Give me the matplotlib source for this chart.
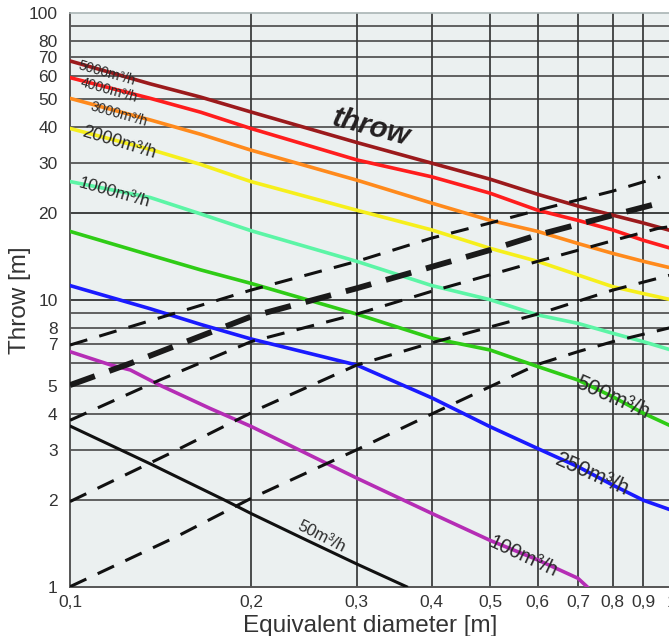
import matplotlib
matplotlib.use("Agg")
import matplotlib.pyplot as plt
from matplotlib.ticker import NullLocator

plt.rcParams['font.family'] = ['Liberation Sans', 'DejaVu Sans']
plt.rcParams['lines.scale_dashes'] = False

# ---- throw curves per air volume ----
x_main = [0.1, 0.136, 0.165, 0.2, 0.3, 0.4, 0.5, 0.6, 0.7, 0.8, 0.9, 1.0]
throw_5000 = [67.9, 56.5, 50.8, 45.1, 35.3, 29.9, 26.3, 23.3, 21.2, 19.7, 18.5, 17.4]
throw_4000 = [59.4, 50.3, 45.0, 39.5, 30.7, 26.8, 23.5, 20.5, 18.9, 17.5, 16.1, 15.1]
throw_3000 = [50.3, 42.3, 37.7, 33.2, 26.1, 21.7, 18.9, 17.3, 15.7, 14.5, 13.6, 12.9]
throw_2000 = [39.5, 33.4, 29.6, 25.8, 20.5, 17.5, 15.1, 13.6, 12.2, 11.1, 10.5, 10.0]
throw_1000 = [25.8, 22.7, 19.9, 17.4, 13.6, 11.2, 10.0, 8.85, 8.27, 7.64, 7.14, 6.68]
throw_500 = [17.3, 14.3, 12.7, 11.4, 8.91, 7.35, 6.68, 5.85, 5.25, 4.59, 4.02, 3.63]
throw_250 = [11.2, 9.3, 8.2, 7.3, 5.92, 4.55, 3.61, 3.03, 2.62, 2.26, 2.0, 1.85]

x_100 = [0.1, 0.117, 0.126, 0.141, 0.171, 0.2, 0.3, 0.4, 0.5, 0.6, 0.7, 0.725]
throw_100 = [6.59, 5.92, 5.69, 5.04, 4.18, 3.62, 2.39, 1.80, 1.45, 1.24, 1.07, 1.0]

x_50 = [0.1, 0.136, 0.182, 0.2, 0.248, 0.3, 0.363]
throw_50 = [3.63, 2.68, 1.99, 1.80, 1.45, 1.2, 1.0]

# ---- dashed reference lines ----
xa = [0.1, 0.2, 0.3, 0.4, 0.5, 0.6, 0.8, 0.96]
ya = [6.95, 10.8, 13.6, 16.4, 18.5, 20.5, 23.9, 26.8]
xb = [0.1, 0.126, 0.2, 0.3, 0.43, 0.5, 0.6, 0.8, 0.98]
yb = [5.04, 6.0, 8.73, 10.96, 13.6, 14.9, 16.8, 19.7, 22.0]
xc = [0.1, 0.141, 0.2, 0.3, 0.4, 0.6, 0.83, 0.95, 1.0]
yc = [3.8, 5.25, 7.14, 8.91, 10.7, 13.6, 16.4, 17.7, 18.0]
xd = [0.1, 0.147, 0.207, 0.3, 0.4, 0.6, 0.8, 1.0]
yd = [1.98, 2.92, 4.18, 5.92, 7.08, 8.91, 10.8, 12.2]
xe = [0.1, 0.15, 0.2, 0.3, 0.4, 0.6, 0.7, 0.8, 1.0]
ye = [1.0, 1.49, 2.03, 3.0, 4.0, 5.95, 6.59, 7.14, 8.0]

# ---- ticks ----
x_ticks = [0.1, 0.2, 0.3, 0.4, 0.5, 0.6, 0.7, 0.8, 0.9, 1.0]
x_tick_labels = ["0,1", "0,2", "0,3", "0,4", "0,5", "0,6", "0,7", "0,8", "0,9", "1"]
y_ticks = [1, 2, 3, 4, 5, 7, 8, 10, 20, 30, 40, 50, 60, 70, 80, 100]
y_tick_labels = ["1", "2", "3", "4", "5", "7", "8", "10", "20", "30", "40",
                 "50", "60", "70", "80", "100"]
y_grid = [2, 3, 4, 5, 6, 7, 8, 9, 10, 20, 30, 40, 50, 60, 70, 80, 90]
x_grid = [0.2, 0.3, 0.4, 0.5, 0.6, 0.7, 0.8, 0.9]

fig = plt.figure(figsize=(6.69, 6.36), dpi=100)
ax = fig.add_axes([70 / 669, 1 - 586.7 / 636, 601 / 669, (586.7 - 12.7) / 636])
ax.set_xscale('log')
ax.set_yscale('log')
ax.set_xlim(0.1, 1.0)
ax.set_ylim(1, 100)
ax.set_facecolor('#ebf0f0')

for v in x_grid:
    ax.axvline(v, color='#1e1e1e', lw=1.1, zorder=1)
for h in y_grid:
    ax.axhline(h, color='#111111' if h in (10, 20) else '#3a3a3a', lw=1.1, zorder=1)

# coloured throw curves
curves = [
    (x_main, throw_5000, '#9b1a1c'),
    (x_main, throw_4000, '#ff1d1d'),
    (x_main, throw_3000, '#ff8a1c'),
    (x_main, throw_2000, '#f6ef1c'),
    (x_main, throw_1000, '#5cf5a6'),
    (x_main, throw_500, '#2fcc16'),
    (x_main, throw_250, '#1a1aff'),
    (x_100, throw_100, '#b52db5'),
]
for xs, ys, c in curves:
    ax.plot(xs, ys, color=c, lw=2.6, zorder=3, solid_joinstyle='round')
ax.plot(x_50, throw_50, color='#111111', lw=2.2, zorder=3, solid_joinstyle='round')

# dashed lines
for xs, ys in [(xa, ya), (xc, yc), (xd, yd), (xe, ye)]:
    ln, = ax.plot(xs, ys, color='#111111', lw=2.2, zorder=4)
    ln.set_dashes((13, 9))
ln, = ax.plot(xb, yb, color='#1a1a1a', lw=4.2, zorder=4)
ln.set_dashes((19, 11))

# curve labels
lab_col = '#2a2a2a'
labels = [
    (0.1152, 61.6, "5000m³/h", 10, -16),
    (0.1161, 53.5, "4000m³/h", 10, -16),
    (0.1207, 44.4, "3000m³/h", 10, -16),
    (0.1207, 35.2, "2000m³/h", 13, -17),
    (0.1184, 23.5, "1000m³/h", 12.5, -16),
    (0.800, 4.55, "500m³/h", 15.5, -24),
    (0.739, 2.45, "250m³/h", 15.5, -24),
    (0.567, 1.27, "100m³/h", 14.5, -25),
    (0.2625, 1.49, "50m³/h", 12, -27),
]
for x, y, s, fs, rot in labels:
    ax.text(x, y, s, fontsize=fs, rotation=rot, rotation_mode='anchor',
            ha='center', va='center', color=lab_col, zorder=5)

ax.text(0.3164, 39.9, "throw", fontsize=21, fontweight='bold', fontstyle='italic',
        rotation=-15, rotation_mode='anchor', ha='center', va='center',
        color='#231f20', zorder=5)

# axes styling
ax.set_xticks(x_ticks, labels=x_tick_labels)
ax.set_yticks(y_ticks, labels=y_tick_labels)
ax.xaxis.set_minor_locator(NullLocator())
ax.yaxis.set_minor_locator(NullLocator())
ax.tick_params(axis='both', length=0, labelsize=12.5, colors='#333333')
ax.tick_params(axis='x', pad=6)
ax.tick_params(axis='y', pad=9)

ax.spines['right'].set_visible(False)
ax.spines['top'].set_color('#a9b4b4')
ax.spines['top'].set_linewidth(1.2)
ax.spines['left'].set_color('#555555')
ax.spines['left'].set_linewidth(1.4)
ax.spines['bottom'].set_color('#555555')
ax.spines['bottom'].set_linewidth(1.4)

fig.text(20 / 669, 1 - 299.7 / 636, "Throw [m]", rotation=90, fontsize=17.5,
         ha='center', va='center', color='#333333')
fig.text(370 / 669, 1 - 632 / 636, "Equivalent diameter [m]", fontsize=17.5,
         ha='center', va='baseline', color='#333333')

fig.savefig("out.png", dpi=100)
